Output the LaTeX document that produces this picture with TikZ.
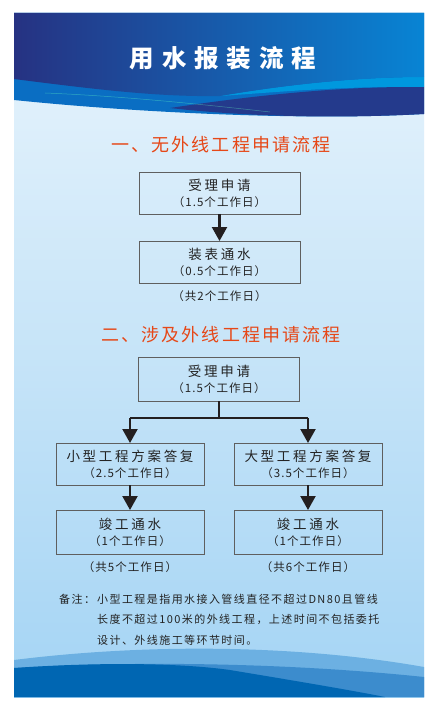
\documentclass[tikz,border=0pt]{standalone}
\usepackage{fontspec}
\setmainfont{Noto Sans CJK SC}
\newfontfamily\titlefont{Noto Sans CJK SC}[LetterSpace=32]
\newfontfamily\headfont{Noto Sans CJK SC}[LetterSpace=12]
\newfontfamily\boxfont{Noto Sans CJK SC}[LetterSpace=20]
\newfontfamily\dayfont{Noto Sans CJK SC}[LetterSpace=9]
\newfontfamily\notefont{Noto Sans CJK SC}[LetterSpace=13]
\usepackage{tikz}
\usetikzlibrary{arrows.meta,positioning}

\definecolor{hdrL}{RGB}{38,50,130}
\definecolor{hdrM}{RGB}{6,84,165}
\definecolor{hdrR}{RGB}{8,132,212}
\definecolor{midblue}{RGB}{10,110,195}
\definecolor{navyband}{RGB}{36,58,140}
\definecolor{brightband}{RGB}{0,152,222}
\definecolor{bgTop}{RGB}{232,244,252}
\definecolor{bgBot}{RGB}{164,212,244}
\definecolor{waveLight}{RGB}{108,176,226}
\definecolor{waveMid}{RGB}{60,140,205}
\definecolor{waveDark}{RGB}{0,102,178}
\definecolor{headred}{RGB}{230,72,24}
\definecolor{boxgray}{RGB}{95,95,95}
\definecolor{textgray}{RGB}{35,35,35}
\definecolor{arrowblack}{RGB}{35,31,32}

% two-line box text: step name, working days
\newcommand{\steptext}[2]{{\boxfont\fontsize{13.5}{15}\selectfont #1}\\[4pt]{\dayfont\fontsize{11.5}{13}\selectfont （#2个工作日）}}

\begin{document}
\begin{tikzpicture}[x=1pt, y=-1pt,
    stepbox/.style={rectangle, draw=boxgray, line width=0.9pt, align=center, minimum height=42pt, inner sep=2pt, outer sep=0pt, text=textgray},
    wide/.style={minimum width=161pt},
    narrow/.style={minimum width=148pt},
    heading/.style={font=\headfont\fontsize{18}{20}\selectfont, text=headred},
    total/.style={font=\dayfont\fontsize{11.5}{13}\selectfont, text=textgray},
    arrow/.style={-{Triangle[width=15pt,length=14pt]}, line width=2.2pt, draw=arrowblack},
    tree/.style={line width=1.1pt, draw=arrowblack},
    note/.style={anchor=west, inner sep=0pt, font=\notefont\fontsize{11}{13}\selectfont, text=textgray}
]
    % page and panel
    \useasboundingbox (0,0) rectangle (438,711);
    \fill[white] (0,0) rectangle (438,711);
    \shade[top color=bgTop, bottom color=bgBot] (14,13) rectangle (424,697);

    % header waves
    \fill[midblue] (14,13) -- (424,13) -- (424,114) .. controls (300,121) and (130,112) .. (14,100) -- cycle;
    \fill[navyband] (170,108) .. controls (250,96) and (340,86) .. (424,87) -- (424,114) .. controls (330,119) and (240,116) .. (170,108) -- cycle;
    \fill[brightband] (220,96) .. controls (290,84) and (360,77) .. (424,77) -- (424,87) .. controls (340,86) and (280,92) .. (220,96) -- cycle;
    \shade[left color=hdrL, middle color=hdrM, right color=hdrR] (14,13) -- (424,13) -- (424,77) .. controls (360,77) and (290,84) .. (220,96) .. controls (160,97) and (100,90) .. (14,79) -- cycle;
    \draw[line width=0.5pt, draw=green!40!cyan!60!white, opacity=0.4] (45,93) .. controls (120,96) and (200,104) .. (270,112);

    % footer waves
    \fill[waveLight] (14,660) .. controls (150,643) and (300,645) .. (424,667) -- (424,697) -- (14,697) -- cycle;
    \fill[waveMid] (14,668) .. controls (150,660) and (300,664) .. (424,677) -- (424,697) -- (14,697) -- cycle;
    \fill[waveDark] (14,668) .. controls (100,662) and (180,663) .. (230,670) .. controls (290,680) and (350,690) .. (385,697) -- (14,697) -- cycle;

    \node[font=\titlefont\bfseries\fontsize{24.5}{26}\selectfont, text=white] (title) at (223,58) {用水报装流程};

    % part one
    \node[heading] (head1) at (221,145) {一、无外线工程申请流程};
    \node[stepbox, wide] (accept1) at (219.5,193) {\steptext{受理申请}{1.5}};
    \node[stepbox, wide, below=27pt of accept1] (water1) {\steptext{装表通水}{0.5}};
    \node[total, below=4pt of water1] (days1) {（共2个工作日）};

    \draw[arrow] (accept1) -- (water1);

    % part two
    \node[heading] (head2) at (221,335) {二、涉及外线工程申请流程};
    \node[stepbox, wide, minimum height=44pt] (accept2) at (219,379) {\steptext{受理申请}{1.5}};
    \coordinate[below=17pt of accept2] (fork);
    \node[stepbox, narrow] (small1) at (130,464) {\steptext{小型工程方案答复}{2.5}};
    \node[stepbox, narrow] (large1) at (308,464) {\steptext{大型工程方案答复}{3.5}};
    \node[stepbox, narrow, minimum height=44pt, below=25pt of small1] (small2) {\steptext{竣工通水}{1}};
    \node[stepbox, narrow, minimum height=44pt, below=25pt of large1] (large2) {\steptext{竣工通水}{1}};
    \node[total, below=4pt of small2] (days2) {（共5个工作日）};
    \node[total, below=4pt of large2] (days3) {（共6个工作日）};

    \draw[tree] (accept2) -- (fork);
    \draw[tree] (fork -| small1) -- (fork -| large1);
    \draw[arrow] (fork -| small1) -- (small1);
    \draw[arrow] (fork -| large1) -- (large1);
    \draw[arrow] (small1) -- (small2);
    \draw[arrow] (large1) -- (large2);

    % remark
    \node[note] (remark) at (59,599) {备注：};
    \node[note] (remark1) at (97,599) {小型工程是指用水接入管线直径不超过DN80且管线};
    \node[note] (remark2) at (97,619) {长度不超过100米的外线工程，上述时间不包括委托};
    \node[note] (remark3) at (97,640) {设计、外线施工等环节时间。};
\end{tikzpicture}
\end{document}
